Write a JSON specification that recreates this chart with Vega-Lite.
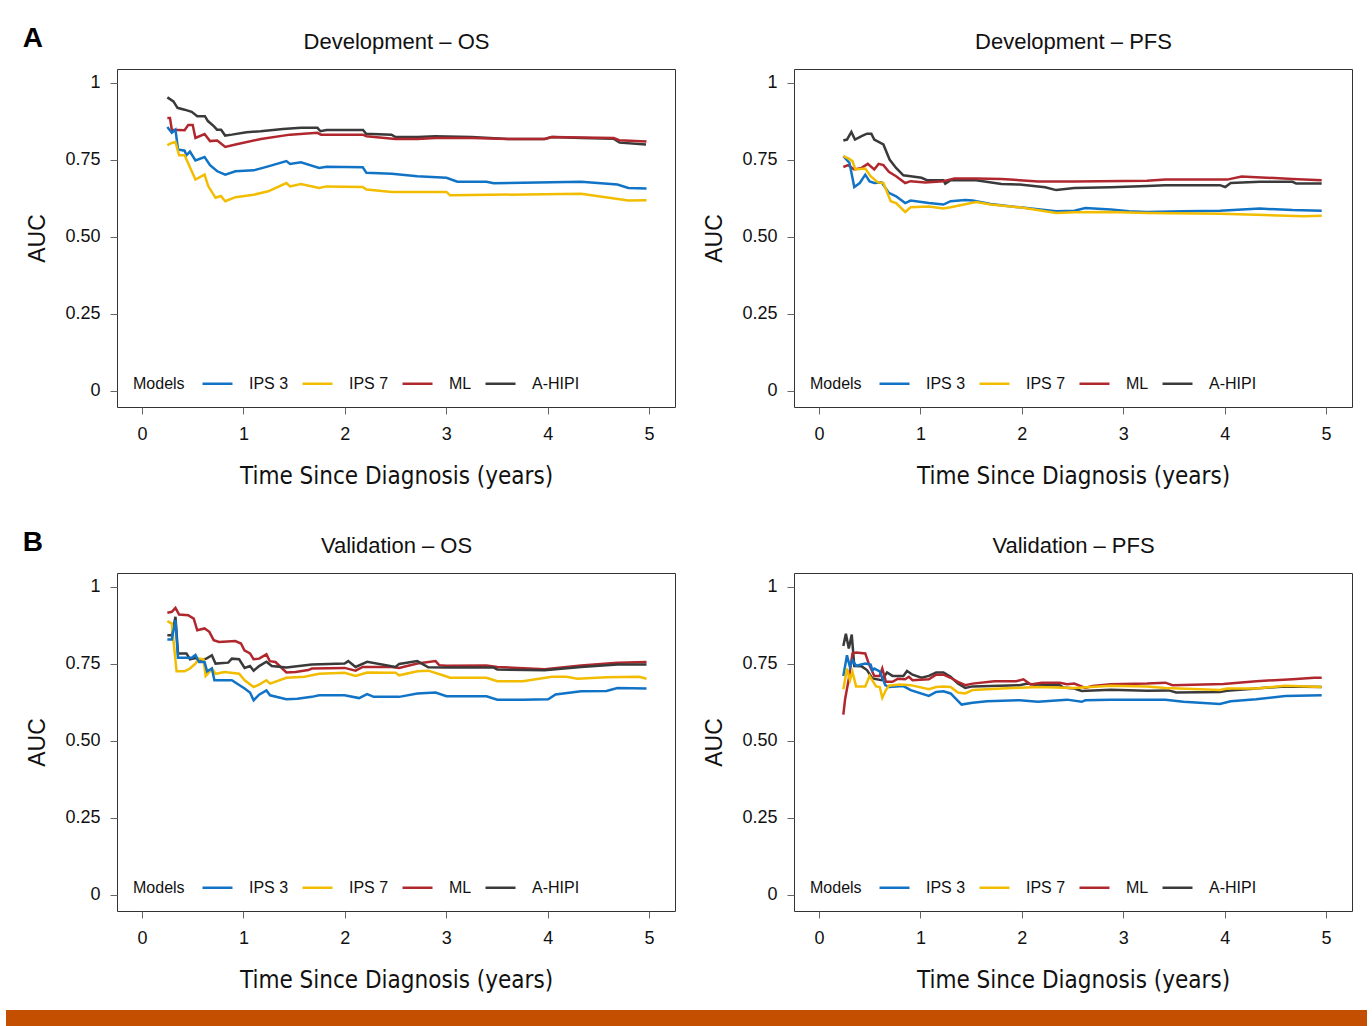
{
  "$schema": "https://vega.github.io/schema/vega-lite/v6.json",
  "background": "white",
  "padding": {"left": 6, "top": 24, "right": 0, "bottom": 0},
  "datasets": {
    "devos": [
      {"m":"A-HIPI","t":0.25,"v":0.953},{"m":"A-HIPI","t":0.31,"v":0.94},{"m":"A-HIPI","t":0.35,"v":0.919},{"m":"A-HIPI","t":0.42,"v":0.913},{"m":"A-HIPI","t":0.49,"v":0.906},{"m":"A-HIPI","t":0.545,"v":0.892},{"m":"A-HIPI","t":0.62,"v":0.892},{"m":"A-HIPI","t":0.65,"v":0.876},{"m":"A-HIPI","t":0.71,"v":0.859},{"m":"A-HIPI","t":0.74,"v":0.848},{"m":"A-HIPI","t":0.78,"v":0.848},{"m":"A-HIPI","t":0.82,"v":0.829},{"m":"A-HIPI","t":0.886,"v":0.832},{"m":"A-HIPI","t":1.03,"v":0.84},{"m":"A-HIPI","t":1.17,"v":0.843},{"m":"A-HIPI","t":1.39,"v":0.85},{"m":"A-HIPI","t":1.57,"v":0.854},{"m":"A-HIPI","t":1.73,"v":0.854},{"m":"A-HIPI","t":1.76,"v":0.843},{"m":"A-HIPI","t":1.82,"v":0.847},{"m":"A-HIPI","t":2.18,"v":0.847},{"m":"A-HIPI","t":2.21,"v":0.835},{"m":"A-HIPI","t":2.46,"v":0.832},{"m":"A-HIPI","t":2.5,"v":0.824},{"m":"A-HIPI","t":2.72,"v":0.824},{"m":"A-HIPI","t":2.89,"v":0.827},{"m":"A-HIPI","t":3.25,"v":0.824},{"m":"A-HIPI","t":3.61,"v":0.818},{"m":"A-HIPI","t":3.97,"v":0.818},{"m":"A-HIPI","t":4.04,"v":0.824},{"m":"A-HIPI","t":4.33,"v":0.821},{"m":"A-HIPI","t":4.65,"v":0.819},{"m":"A-HIPI","t":4.71,"v":0.806},{"m":"A-HIPI","t":4.97,"v":0.8},
      {"m":"ML","t":0.25,"v":0.886},{"m":"ML","t":0.276,"v":0.886},{"m":"ML","t":0.294,"v":0.848},{"m":"ML","t":0.42,"v":0.846},{"m":"ML","t":0.456,"v":0.863},{"m":"ML","t":0.5,"v":0.863},{"m":"ML","t":0.527,"v":0.821},{"m":"ML","t":0.617,"v":0.834},{"m":"ML","t":0.671,"v":0.811},{"m":"ML","t":0.742,"v":0.813},{"m":"ML","t":0.821,"v":0.792},{"m":"ML","t":0.922,"v":0.8},{"m":"ML","t":1.173,"v":0.818},{"m":"ML","t":1.46,"v":0.832},{"m":"ML","t":1.729,"v":0.838},{"m":"ML","t":1.765,"v":0.832},{"m":"ML","t":2.177,"v":0.832},{"m":"ML","t":2.213,"v":0.827},{"m":"ML","t":2.5,"v":0.818},{"m":"ML","t":2.715,"v":0.818},{"m":"ML","t":2.895,"v":0.821},{"m":"ML","t":3.253,"v":0.821},{"m":"ML","t":3.612,"v":0.818},{"m":"ML","t":3.971,"v":0.818},{"m":"ML","t":4.043,"v":0.824},{"m":"ML","t":4.652,"v":0.821},{"m":"ML","t":4.706,"v":0.814},{"m":"ML","t":4.975,"v":0.81},
      {"m":"IPS 3","t":0.25,"v":0.857},{"m":"IPS 3","t":0.294,"v":0.838},{"m":"IPS 3","t":0.33,"v":0.848},{"m":"IPS 3","t":0.355,"v":0.784},{"m":"IPS 3","t":0.42,"v":0.78},{"m":"IPS 3","t":0.438,"v":0.765},{"m":"IPS 3","t":0.473,"v":0.777},{"m":"IPS 3","t":0.527,"v":0.748},{"m":"IPS 3","t":0.617,"v":0.759},{"m":"IPS 3","t":0.671,"v":0.733},{"m":"IPS 3","t":0.742,"v":0.713},{"m":"IPS 3","t":0.821,"v":0.702},{"m":"IPS 3","t":0.922,"v":0.713},{"m":"IPS 3","t":1.101,"v":0.716},{"m":"IPS 3","t":1.245,"v":0.729},{"m":"IPS 3","t":1.424,"v":0.746},{"m":"IPS 3","t":1.46,"v":0.737},{"m":"IPS 3","t":1.567,"v":0.742},{"m":"IPS 3","t":1.747,"v":0.724},{"m":"IPS 3","t":1.819,"v":0.728},{"m":"IPS 3","t":2.177,"v":0.726},{"m":"IPS 3","t":2.213,"v":0.708},{"m":"IPS 3","t":2.464,"v":0.705},{"m":"IPS 3","t":2.715,"v":0.697},{"m":"IPS 3","t":3.002,"v":0.692},{"m":"IPS 3","t":3.11,"v":0.679},{"m":"IPS 3","t":3.397,"v":0.679},{"m":"IPS 3","t":3.468,"v":0.674},{"m":"IPS 3","t":4.329,"v":0.679},{"m":"IPS 3","t":4.688,"v":0.67},{"m":"IPS 3","t":4.796,"v":0.659},{"m":"IPS 3","t":4.975,"v":0.657},
      {"m":"IPS 7","t":0.25,"v":0.798},{"m":"IPS 7","t":0.294,"v":0.805},{"m":"IPS 7","t":0.33,"v":0.808},{"m":"IPS 7","t":0.366,"v":0.765},{"m":"IPS 7","t":0.42,"v":0.765},{"m":"IPS 7","t":0.527,"v":0.686},{"m":"IPS 7","t":0.617,"v":0.702},{"m":"IPS 7","t":0.653,"v":0.665},{"m":"IPS 7","t":0.725,"v":0.627},{"m":"IPS 7","t":0.778,"v":0.633},{"m":"IPS 7","t":0.821,"v":0.616},{"m":"IPS 7","t":0.922,"v":0.629},{"m":"IPS 7","t":1.101,"v":0.637},{"m":"IPS 7","t":1.245,"v":0.648},{"m":"IPS 7","t":1.424,"v":0.675},{"m":"IPS 7","t":1.46,"v":0.664},{"m":"IPS 7","t":1.567,"v":0.672},{"m":"IPS 7","t":1.747,"v":0.659},{"m":"IPS 7","t":1.819,"v":0.664},{"m":"IPS 7","t":2.177,"v":0.662},{"m":"IPS 7","t":2.213,"v":0.654},{"m":"IPS 7","t":2.464,"v":0.646},{"m":"IPS 7","t":3.002,"v":0.646},{"m":"IPS 7","t":3.038,"v":0.635},{"m":"IPS 7","t":4.329,"v":0.64},{"m":"IPS 7","t":4.796,"v":0.618},{"m":"IPS 7","t":4.975,"v":0.619}
    ],
    "devpfs": [
      {"m":"A-HIPI","t":0.24,"v":0.813},{"m":"A-HIPI","t":0.276,"v":0.816},{"m":"A-HIPI","t":0.319,"v":0.841},{"m":"A-HIPI","t":0.355,"v":0.816},{"m":"A-HIPI","t":0.42,"v":0.827},{"m":"A-HIPI","t":0.473,"v":0.835},{"m":"A-HIPI","t":0.516,"v":0.835},{"m":"A-HIPI","t":0.545,"v":0.816},{"m":"A-HIPI","t":0.635,"v":0.8},{"m":"A-HIPI","t":0.696,"v":0.751},{"m":"A-HIPI","t":0.76,"v":0.724},{"m":"A-HIPI","t":0.832,"v":0.7},{"m":"A-HIPI","t":0.904,"v":0.697},{"m":"A-HIPI","t":1.011,"v":0.692},{"m":"A-HIPI","t":1.065,"v":0.684},{"m":"A-HIPI","t":1.227,"v":0.684},{"m":"A-HIPI","t":1.245,"v":0.673},{"m":"A-HIPI","t":1.298,"v":0.684},{"m":"A-HIPI","t":1.549,"v":0.684},{"m":"A-HIPI","t":1.8,"v":0.672},{"m":"A-HIPI","t":1.98,"v":0.67},{"m":"A-HIPI","t":2.23,"v":0.661},{"m":"A-HIPI","t":2.339,"v":0.652},{"m":"A-HIPI","t":2.518,"v":0.659},{"m":"A-HIPI","t":2.877,"v":0.661},{"m":"A-HIPI","t":3.235,"v":0.665},{"m":"A-HIPI","t":3.415,"v":0.668},{"m":"A-HIPI","t":3.953,"v":0.668},{"m":"A-HIPI","t":4.006,"v":0.662},{"m":"A-HIPI","t":4.06,"v":0.675},{"m":"A-HIPI","t":4.347,"v":0.679},{"m":"A-HIPI","t":4.67,"v":0.679},{"m":"A-HIPI","t":4.706,"v":0.673},{"m":"A-HIPI","t":4.957,"v":0.673},
      {"m":"ML","t":0.24,"v":0.727},{"m":"ML","t":0.287,"v":0.733},{"m":"ML","t":0.348,"v":0.719},{"m":"ML","t":0.42,"v":0.724},{"m":"ML","t":0.481,"v":0.737},{"m":"ML","t":0.545,"v":0.719},{"m":"ML","t":0.588,"v":0.737},{"m":"ML","t":0.635,"v":0.733},{"m":"ML","t":0.689,"v":0.711},{"m":"ML","t":0.76,"v":0.697},{"m":"ML","t":0.85,"v":0.675},{"m":"ML","t":0.904,"v":0.681},{"m":"ML","t":1.047,"v":0.677},{"m":"ML","t":1.227,"v":0.681},{"m":"ML","t":1.334,"v":0.69},{"m":"ML","t":1.549,"v":0.69},{"m":"ML","t":1.8,"v":0.688},{"m":"ML","t":2.159,"v":0.68},{"m":"ML","t":2.518,"v":0.68},{"m":"ML","t":3.235,"v":0.682},{"m":"ML","t":3.415,"v":0.686},{"m":"ML","t":4.024,"v":0.686},{"m":"ML","t":4.168,"v":0.696},{"m":"ML","t":4.311,"v":0.694},{"m":"ML","t":4.67,"v":0.688},{"m":"ML","t":4.957,"v":0.684},
      {"m":"IPS 3","t":0.24,"v":0.762},{"m":"IPS 3","t":0.301,"v":0.74},{"m":"IPS 3","t":0.348,"v":0.662},{"m":"IPS 3","t":0.402,"v":0.675},{"m":"IPS 3","t":0.456,"v":0.702},{"m":"IPS 3","t":0.499,"v":0.68},{"m":"IPS 3","t":0.545,"v":0.675},{"m":"IPS 3","t":0.617,"v":0.677},{"m":"IPS 3","t":0.689,"v":0.643},{"m":"IPS 3","t":0.76,"v":0.632},{"m":"IPS 3","t":0.85,"v":0.61},{"m":"IPS 3","t":0.904,"v":0.618},{"m":"IPS 3","t":1.083,"v":0.61},{"m":"IPS 3","t":1.227,"v":0.605},{"m":"IPS 3","t":1.298,"v":0.616},{"m":"IPS 3","t":1.442,"v":0.62},{"m":"IPS 3","t":1.514,"v":0.618},{"m":"IPS 3","t":1.693,"v":0.607},{"m":"IPS 3","t":1.98,"v":0.596},{"m":"IPS 3","t":2.339,"v":0.583},{"m":"IPS 3","t":2.518,"v":0.585},{"m":"IPS 3","t":2.626,"v":0.594},{"m":"IPS 3","t":2.877,"v":0.589},{"m":"IPS 3","t":3.056,"v":0.583},{"m":"IPS 3","t":3.235,"v":0.581},{"m":"IPS 3","t":3.594,"v":0.583},{"m":"IPS 3","t":3.953,"v":0.585},{"m":"IPS 3","t":4.347,"v":0.592},{"m":"IPS 3","t":4.67,"v":0.587},{"m":"IPS 3","t":4.957,"v":0.585},
      {"m":"IPS 7","t":0.24,"v":0.762},{"m":"IPS 7","t":0.294,"v":0.754},{"m":"IPS 7","t":0.33,"v":0.746},{"m":"IPS 7","t":0.359,"v":0.719},{"m":"IPS 7","t":0.456,"v":0.722},{"m":"IPS 7","t":0.509,"v":0.697},{"m":"IPS 7","t":0.581,"v":0.677},{"m":"IPS 7","t":0.635,"v":0.675},{"m":"IPS 7","t":0.707,"v":0.616},{"m":"IPS 7","t":0.76,"v":0.61},{"m":"IPS 7","t":0.85,"v":0.581},{"m":"IPS 7","t":0.904,"v":0.596},{"m":"IPS 7","t":1.083,"v":0.599},{"m":"IPS 7","t":1.227,"v":0.592},{"m":"IPS 7","t":1.298,"v":0.596},{"m":"IPS 7","t":1.549,"v":0.613},{"m":"IPS 7","t":1.693,"v":0.605},{"m":"IPS 7","t":1.98,"v":0.596},{"m":"IPS 7","t":2.339,"v":0.578},{"m":"IPS 7","t":2.518,"v":0.58},{"m":"IPS 7","t":2.877,"v":0.581},{"m":"IPS 7","t":3.235,"v":0.578},{"m":"IPS 7","t":3.953,"v":0.575},{"m":"IPS 7","t":4.311,"v":0.572},{"m":"IPS 7","t":4.778,"v":0.567},{"m":"IPS 7","t":4.957,"v":0.569}
    ],
    "valos": [
      {"m":"ML","t":0.25,"v":0.916},{"m":"ML","t":0.294,"v":0.919},{"m":"ML","t":0.33,"v":0.932},{"m":"ML","t":0.366,"v":0.91},{"m":"ML","t":0.456,"v":0.908},{"m":"ML","t":0.51,"v":0.897},{"m":"ML","t":0.545,"v":0.859},{"m":"ML","t":0.617,"v":0.865},{"m":"ML","t":0.664,"v":0.854},{"m":"ML","t":0.707,"v":0.827},{"m":"ML","t":0.76,"v":0.821},{"m":"ML","t":0.92,"v":0.824},{"m":"ML","t":0.976,"v":0.816},{"m":"ML","t":1.01,"v":0.794},{"m":"ML","t":1.065,"v":0.784},{"m":"ML","t":1.1,"v":0.765},{"m":"ML","t":1.155,"v":0.767},{"m":"ML","t":1.227,"v":0.781},{"m":"ML","t":1.26,"v":0.759},{"m":"ML","t":1.316,"v":0.756},{"m":"ML","t":1.424,"v":0.722},{"m":"ML","t":1.514,"v":0.724},{"m":"ML","t":1.64,"v":0.73},{"m":"ML","t":1.675,"v":0.735},{"m":"ML","t":1.998,"v":0.737},{"m":"ML","t":2.106,"v":0.728},{"m":"ML","t":2.177,"v":0.74},{"m":"ML","t":2.464,"v":0.74},{"m":"ML","t":2.536,"v":0.737},{"m":"ML","t":2.715,"v":0.751},{"m":"ML","t":2.895,"v":0.759},{"m":"ML","t":2.93,"v":0.746},{"m":"ML","t":3.0,"v":0.744},{"m":"ML","t":3.397,"v":0.745},{"m":"ML","t":3.504,"v":0.74},{"m":"ML","t":3.97,"v":0.733},{"m":"ML","t":4.33,"v":0.745},{"m":"ML","t":4.69,"v":0.754},{"m":"ML","t":4.975,"v":0.756},
      {"m":"A-HIPI","t":0.25,"v":0.843},{"m":"A-HIPI","t":0.294,"v":0.843},{"m":"A-HIPI","t":0.33,"v":0.903},{"m":"A-HIPI","t":0.355,"v":0.784},{"m":"A-HIPI","t":0.438,"v":0.784},{"m":"A-HIPI","t":0.473,"v":0.765},{"m":"A-HIPI","t":0.527,"v":0.769},{"m":"A-HIPI","t":0.563,"v":0.762},{"m":"A-HIPI","t":0.635,"v":0.767},{"m":"A-HIPI","t":0.689,"v":0.778},{"m":"A-HIPI","t":0.725,"v":0.751},{"m":"A-HIPI","t":0.85,"v":0.754},{"m":"A-HIPI","t":0.886,"v":0.767},{"m":"A-HIPI","t":0.958,"v":0.765},{"m":"A-HIPI","t":1.012,"v":0.737},{"m":"A-HIPI","t":1.065,"v":0.743},{"m":"A-HIPI","t":1.101,"v":0.728},{"m":"A-HIPI","t":1.155,"v":0.743},{"m":"A-HIPI","t":1.227,"v":0.757},{"m":"A-HIPI","t":1.28,"v":0.743},{"m":"A-HIPI","t":1.424,"v":0.738},{"m":"A-HIPI","t":1.675,"v":0.748},{"m":"A-HIPI","t":1.998,"v":0.751},{"m":"A-HIPI","t":2.034,"v":0.759},{"m":"A-HIPI","t":2.106,"v":0.74},{"m":"A-HIPI","t":2.22,"v":0.757},{"m":"A-HIPI","t":2.5,"v":0.74},{"m":"A-HIPI","t":2.536,"v":0.75},{"m":"A-HIPI","t":2.715,"v":0.759},{"m":"A-HIPI","t":2.823,"v":0.739},{"m":"A-HIPI","t":3.0,"v":0.738},{"m":"A-HIPI","t":3.468,"v":0.738},{"m":"A-HIPI","t":3.504,"v":0.732},{"m":"A-HIPI","t":3.97,"v":0.729},{"m":"A-HIPI","t":4.33,"v":0.74},{"m":"A-HIPI","t":4.69,"v":0.748},{"m":"A-HIPI","t":4.975,"v":0.748},
      {"m":"IPS 7","t":0.25,"v":0.889},{"m":"IPS 7","t":0.294,"v":0.881},{"m":"IPS 7","t":0.341,"v":0.726},{"m":"IPS 7","t":0.42,"v":0.726},{"m":"IPS 7","t":0.473,"v":0.735},{"m":"IPS 7","t":0.527,"v":0.751},{"m":"IPS 7","t":0.563,"v":0.767},{"m":"IPS 7","t":0.606,"v":0.765},{"m":"IPS 7","t":0.628,"v":0.711},{"m":"IPS 7","t":0.664,"v":0.724},{"m":"IPS 7","t":0.689,"v":0.735},{"m":"IPS 7","t":0.725,"v":0.718},{"m":"IPS 7","t":0.814,"v":0.724},{"m":"IPS 7","t":0.958,"v":0.718},{"m":"IPS 7","t":1.012,"v":0.697},{"m":"IPS 7","t":1.101,"v":0.675},{"m":"IPS 7","t":1.155,"v":0.683},{"m":"IPS 7","t":1.227,"v":0.697},{"m":"IPS 7","t":1.263,"v":0.686},{"m":"IPS 7","t":1.424,"v":0.705},{"m":"IPS 7","t":1.603,"v":0.708},{"m":"IPS 7","t":1.747,"v":0.718},{"m":"IPS 7","t":1.998,"v":0.721},{"m":"IPS 7","t":2.106,"v":0.711},{"m":"IPS 7","t":2.22,"v":0.722},{"m":"IPS 7","t":2.5,"v":0.721},{"m":"IPS 7","t":2.536,"v":0.713},{"m":"IPS 7","t":2.715,"v":0.726},{"m":"IPS 7","t":2.823,"v":0.728},{"m":"IPS 7","t":2.966,"v":0.713},{"m":"IPS 7","t":3.038,"v":0.705},{"m":"IPS 7","t":3.397,"v":0.705},{"m":"IPS 7","t":3.504,"v":0.694},{"m":"IPS 7","t":3.755,"v":0.694},{"m":"IPS 7","t":4.042,"v":0.708},{"m":"IPS 7","t":4.186,"v":0.708},{"m":"IPS 7","t":4.293,"v":0.702},{"m":"IPS 7","t":4.58,"v":0.707},{"m":"IPS 7","t":4.903,"v":0.708},{"m":"IPS 7","t":4.975,"v":0.702},
      {"m":"IPS 3","t":0.25,"v":0.829},{"m":"IPS 3","t":0.294,"v":0.829},{"m":"IPS 3","t":0.33,"v":0.892},{"m":"IPS 3","t":0.355,"v":0.77},{"m":"IPS 3","t":0.491,"v":0.77},{"m":"IPS 3","t":0.527,"v":0.779},{"m":"IPS 3","t":0.563,"v":0.756},{"m":"IPS 3","t":0.617,"v":0.756},{"m":"IPS 3","t":0.642,"v":0.726},{"m":"IPS 3","t":0.689,"v":0.735},{"m":"IPS 3","t":0.714,"v":0.697},{"m":"IPS 3","t":0.886,"v":0.697},{"m":"IPS 3","t":1.012,"v":0.67},{"m":"IPS 3","t":1.065,"v":0.657},{"m":"IPS 3","t":1.101,"v":0.632},{"m":"IPS 3","t":1.155,"v":0.65},{"m":"IPS 3","t":1.227,"v":0.664},{"m":"IPS 3","t":1.263,"v":0.648},{"m":"IPS 3","t":1.424,"v":0.635},{"m":"IPS 3","t":1.531,"v":0.637},{"m":"IPS 3","t":1.675,"v":0.643},{"m":"IPS 3","t":1.747,"v":0.648},{"m":"IPS 3","t":1.998,"v":0.648},{"m":"IPS 3","t":2.141,"v":0.639},{"m":"IPS 3","t":2.22,"v":0.652},{"m":"IPS 3","t":2.285,"v":0.643},{"m":"IPS 3","t":2.536,"v":0.643},{"m":"IPS 3","t":2.715,"v":0.654},{"m":"IPS 3","t":2.895,"v":0.657},{"m":"IPS 3","t":3.002,"v":0.645},{"m":"IPS 3","t":3.397,"v":0.645},{"m":"IPS 3","t":3.504,"v":0.634},{"m":"IPS 3","t":3.755,"v":0.634},{"m":"IPS 3","t":4.006,"v":0.635},{"m":"IPS 3","t":4.078,"v":0.651},{"m":"IPS 3","t":4.33,"v":0.661},{"m":"IPS 3","t":4.58,"v":0.662},{"m":"IPS 3","t":4.688,"v":0.672},{"m":"IPS 3","t":4.975,"v":0.67}
    ],
    "valpfs": [
      {"m":"A-HIPI","t":0.24,"v":0.808},{"m":"A-HIPI","t":0.265,"v":0.848},{"m":"A-HIPI","t":0.294,"v":0.8},{"m":"A-HIPI","t":0.323,"v":0.845},{"m":"A-HIPI","t":0.348,"v":0.743},{"m":"A-HIPI","t":0.42,"v":0.742},{"m":"A-HIPI","t":0.473,"v":0.73},{"m":"A-HIPI","t":0.527,"v":0.703},{"m":"A-HIPI","t":0.617,"v":0.697},{"m":"A-HIPI","t":0.671,"v":0.722},{"m":"A-HIPI","t":0.725,"v":0.711},{"m":"A-HIPI","t":0.832,"v":0.711},{"m":"A-HIPI","t":0.868,"v":0.727},{"m":"A-HIPI","t":0.922,"v":0.715},{"m":"A-HIPI","t":1.011,"v":0.705},{"m":"A-HIPI","t":1.083,"v":0.711},{"m":"A-HIPI","t":1.155,"v":0.722},{"m":"A-HIPI","t":1.227,"v":0.722},{"m":"A-HIPI","t":1.298,"v":0.708},{"m":"A-HIPI","t":1.37,"v":0.686},{"m":"A-HIPI","t":1.442,"v":0.672},{"m":"A-HIPI","t":1.514,"v":0.677},{"m":"A-HIPI","t":1.98,"v":0.681},{"m":"A-HIPI","t":2.052,"v":0.686},{"m":"A-HIPI","t":2.159,"v":0.681},{"m":"A-HIPI","t":2.374,"v":0.681},{"m":"A-HIPI","t":2.41,"v":0.673},{"m":"A-HIPI","t":2.518,"v":0.67},{"m":"A-HIPI","t":2.59,"v":0.662},{"m":"A-HIPI","t":2.877,"v":0.666},{"m":"A-HIPI","t":3.235,"v":0.663},{"m":"A-HIPI","t":3.45,"v":0.664},{"m":"A-HIPI","t":3.522,"v":0.657},{"m":"A-HIPI","t":3.953,"v":0.659},{"m":"A-HIPI","t":4.024,"v":0.663},{"m":"A-HIPI","t":4.311,"v":0.67},{"m":"A-HIPI","t":4.598,"v":0.677},{"m":"A-HIPI","t":4.957,"v":0.675},
      {"m":"ML","t":0.24,"v":0.585},{"m":"ML","t":0.258,"v":0.637},{"m":"ML","t":0.294,"v":0.702},{"m":"ML","t":0.33,"v":0.784},{"m":"ML","t":0.366,"v":0.787},{"m":"ML","t":0.456,"v":0.784},{"m":"ML","t":0.491,"v":0.751},{"m":"ML","t":0.545,"v":0.711},{"m":"ML","t":0.599,"v":0.711},{"m":"ML","t":0.624,"v":0.735},{"m":"ML","t":0.66,"v":0.692},{"m":"ML","t":0.725,"v":0.692},{"m":"ML","t":0.778,"v":0.702},{"m":"ML","t":0.85,"v":0.7},{"m":"ML","t":0.886,"v":0.708},{"m":"ML","t":0.922,"v":0.697},{"m":"ML","t":1.083,"v":0.7},{"m":"ML","t":1.155,"v":0.715},{"m":"ML","t":1.227,"v":0.715},{"m":"ML","t":1.298,"v":0.705},{"m":"ML","t":1.37,"v":0.692},{"m":"ML","t":1.442,"v":0.681},{"m":"ML","t":1.514,"v":0.686},{"m":"ML","t":1.729,"v":0.694},{"m":"ML","t":1.944,"v":0.694},{"m":"ML","t":2.016,"v":0.7},{"m":"ML","t":2.088,"v":0.683},{"m":"ML","t":2.195,"v":0.689},{"m":"ML","t":2.374,"v":0.689},{"m":"ML","t":2.446,"v":0.684},{"m":"ML","t":2.518,"v":0.686},{"m":"ML","t":2.626,"v":0.672},{"m":"ML","t":2.697,"v":0.678},{"m":"ML","t":2.877,"v":0.684},{"m":"ML","t":3.235,"v":0.686},{"m":"ML","t":3.415,"v":0.689},{"m":"ML","t":3.486,"v":0.681},{"m":"ML","t":3.989,"v":0.685},{"m":"ML","t":4.311,"v":0.694},{"m":"ML","t":4.67,"v":0.7},{"m":"ML","t":4.885,"v":0.705},{"m":"ML","t":4.957,"v":0.705},
      {"m":"IPS 3","t":0.24,"v":0.711},{"m":"IPS 3","t":0.276,"v":0.778},{"m":"IPS 3","t":0.305,"v":0.74},{"m":"IPS 3","t":0.33,"v":0.762},{"m":"IPS 3","t":0.366,"v":0.744},{"m":"IPS 3","t":0.456,"v":0.751},{"m":"IPS 3","t":0.509,"v":0.748},{"m":"IPS 3","t":0.527,"v":0.729},{"m":"IPS 3","t":0.545,"v":0.735},{"m":"IPS 3","t":0.599,"v":0.726},{"m":"IPS 3","t":0.653,"v":0.681},{"m":"IPS 3","t":0.689,"v":0.675},{"m":"IPS 3","t":0.832,"v":0.678},{"m":"IPS 3","t":0.904,"v":0.665},{"m":"IPS 3","t":1.083,"v":0.646},{"m":"IPS 3","t":1.155,"v":0.659},{"m":"IPS 3","t":1.227,"v":0.661},{"m":"IPS 3","t":1.298,"v":0.654},{"m":"IPS 3","t":1.406,"v":0.618},{"m":"IPS 3","t":1.514,"v":0.624},{"m":"IPS 3","t":1.657,"v":0.629},{"m":"IPS 3","t":1.98,"v":0.632},{"m":"IPS 3","t":2.159,"v":0.627},{"m":"IPS 3","t":2.446,"v":0.634},{"m":"IPS 3","t":2.59,"v":0.627},{"m":"IPS 3","t":2.626,"v":0.632},{"m":"IPS 3","t":2.877,"v":0.634},{"m":"IPS 3","t":3.415,"v":0.634},{"m":"IPS 3","t":3.594,"v":0.627},{"m":"IPS 3","t":3.953,"v":0.62},{"m":"IPS 3","t":4.06,"v":0.629},{"m":"IPS 3","t":4.311,"v":0.635},{"m":"IPS 3","t":4.598,"v":0.646},{"m":"IPS 3","t":4.957,"v":0.648},
      {"m":"IPS 7","t":0.24,"v":0.668},{"m":"IPS 7","t":0.276,"v":0.735},{"m":"IPS 7","t":0.305,"v":0.697},{"m":"IPS 7","t":0.33,"v":0.724},{"m":"IPS 7","t":0.366,"v":0.677},{"m":"IPS 7","t":0.456,"v":0.677},{"m":"IPS 7","t":0.499,"v":0.711},{"m":"IPS 7","t":0.563,"v":0.677},{"m":"IPS 7","t":0.599,"v":0.675},{"m":"IPS 7","t":0.624,"v":0.64},{"m":"IPS 7","t":0.66,"v":0.665},{"m":"IPS 7","t":0.689,"v":0.679},{"m":"IPS 7","t":0.796,"v":0.683},{"m":"IPS 7","t":0.904,"v":0.681},{"m":"IPS 7","t":1.083,"v":0.668},{"m":"IPS 7","t":1.155,"v":0.675},{"m":"IPS 7","t":1.227,"v":0.677},{"m":"IPS 7","t":1.298,"v":0.675},{"m":"IPS 7","t":1.37,"v":0.657},{"m":"IPS 7","t":1.442,"v":0.654},{"m":"IPS 7","t":1.514,"v":0.665},{"m":"IPS 7","t":1.801,"v":0.67},{"m":"IPS 7","t":2.159,"v":0.675},{"m":"IPS 7","t":2.518,"v":0.672},{"m":"IPS 7","t":2.877,"v":0.679},{"m":"IPS 7","t":3.235,"v":0.677},{"m":"IPS 7","t":3.415,"v":0.672},{"m":"IPS 7","t":3.953,"v":0.665},{"m":"IPS 7","t":4.024,"v":0.67},{"m":"IPS 7","t":4.311,"v":0.67},{"m":"IPS 7","t":4.598,"v":0.679},{"m":"IPS 7","t":4.957,"v":0.675}
    ]
  },
  "config": {
    "font": "Liberation Sans",
    "view": {"stroke": "#333333", "strokeWidth": 1},
    "axis": {"domain": false, "grid": false, "tickColor": "#666666", "tickSize": 7, "tickWidth": 1, "labelFontSize": 18, "labelColor": "#111111", "labelFont": "Liberation Sans", "titleFontWeight": "normal", "titleColor": "#111111"},
    "axisX": {"titleFont": "Liberation Sans Narrow, DejaVu Sans Condensed, Liberation Sans", "titleFontSize": 24, "labelPadding": 11, "titlePadding": 21},
    "axisY": {"titleFont": "Liberation Sans", "titleFontSize": 23, "labelPadding": 10, "titlePadding": 15},
    "legend": {"orient": "none", "legendX": 16, "legendY": 298, "direction": "horizontal", "titleOrient": "left", "titleAnchor": "end", "titleBaseline": "bottom", "titleFontSize": 16, "titleFontWeight": "normal", "titleColor": "#111111", "labelFontSize": 16, "labelColor": "#111111", "symbolType": "stroke", "symbolSize": 900, "symbolStrokeWidth": 2.5, "labelOffset": 15, "columnPadding": 8, "titlePadding": 16, "padding": 0}
  },
  "resolve": {"legend": {"color": "independent"}},
  "spacing": 17,
  "vconcat": [
    {
      "spacing": 39,
      "resolve": {"legend": {"color": "independent"}},
      "vconcat": [
        {
          "spacing": 27,
          "resolve": {"legend": {"color": "independent"}},
          "hconcat": [
            {
              "width": 558, "height": 338,
              "layer": [
                {
                  "data": {"name": "devos"},
                  "mark": {"type": "line", "strokeWidth": 2.5},
                  "encoding": {
                    "x": {"field": "t", "type": "quantitative", "scale": {"domain": [-0.2465, 5.256], "nice": false, "zero": false}, "axis": {"orient": "bottom", "values": [0,1,2,3,4,5], "format": "d", "title": "Time Since Diagnosis (years)"}},
                    "y": {"field": "v", "type": "quantitative", "scale": {"domain": [-0.052, 1.045], "nice": false, "zero": false}, "axis": {"values": [0,0.25,0.5,0.75,1], "labelExpr": "datum.value == 0 ? '0' : datum.value == 1 ? '1' : format(datum.value, '.2f')", "title": "AUC"}},
                    "color": {"field": "m", "type": "nominal", "title": "Models", "scale": {"domain": ["IPS 3","IPS 7","ML","A-HIPI"], "range": ["#1173C6","#F2BD00","#B0282E","#3A3A3A"]}},
                    "order": {"field": "t", "type": "quantitative"}
                  }
                },
                {
                  "data": {"values": [{"lab": "A", "t": -1.075, "v": 1.143}]},
                  "mark": {"type": "text", "fontSize": 28, "fontWeight": "bold", "color": "#000000", "align": "center", "baseline": "middle"},
                  "encoding": {
                    "x": {"field": "t", "type": "quantitative", "axis": {"orient": "top", "title": "Development – OS", "labels": false, "ticks": false, "domain": false, "titleFont": "Liberation Sans", "titleFontSize": 22, "titlePadding": 16}},
                    "y": {"field": "v", "type": "quantitative"},
                    "text": {"field": "lab"}
                  }
                }
              ]
            },
            {
              "width": 558, "height": 338,
              "layer": [
                {
                  "data": {"name": "devpfs"},
                  "mark": {"type": "line", "strokeWidth": 2.5},
                  "encoding": {
                    "x": {"field": "t", "type": "quantitative", "scale": {"domain": [-0.2465, 5.256], "nice": false, "zero": false}, "axis": {"orient": "bottom", "values": [0,1,2,3,4,5], "format": "d", "title": "Time Since Diagnosis (years)"}},
                    "y": {"field": "v", "type": "quantitative", "scale": {"domain": [-0.052, 1.045], "nice": false, "zero": false}, "axis": {"values": [0,0.25,0.5,0.75,1], "labelExpr": "datum.value == 0 ? '0' : datum.value == 1 ? '1' : format(datum.value, '.2f')", "title": "AUC"}},
                    "color": {"field": "m", "type": "nominal", "title": "Models", "scale": {"domain": ["IPS 3","IPS 7","ML","A-HIPI"], "range": ["#1173C6","#F2BD00","#B0282E","#3A3A3A"]}},
                    "order": {"field": "t", "type": "quantitative"}
                  }
                },
                {
                  "data": {"values": [{"lab": "", "t": 0, "v": 0}]},
                  "mark": {"type": "text", "fontSize": 28},
                  "encoding": {
                    "x": {"field": "t", "type": "quantitative", "axis": {"orient": "top", "title": "Development – PFS", "labels": false, "ticks": false, "domain": false, "titleFont": "Liberation Sans", "titleFontSize": 22, "titlePadding": 16}},
                    "y": {"field": "v", "type": "quantitative"},
                    "text": {"field": "lab"}
                  }
                }
              ]
            }
          ]
        },
        {
          "spacing": 27,
          "resolve": {"legend": {"color": "independent"}},
          "hconcat": [
            {
              "width": 558, "height": 338,
              "layer": [
                {
                  "data": {"name": "valos"},
                  "mark": {"type": "line", "strokeWidth": 2.5},
                  "encoding": {
                    "x": {"field": "t", "type": "quantitative", "scale": {"domain": [-0.2465, 5.256], "nice": false, "zero": false}, "axis": {"orient": "bottom", "values": [0,1,2,3,4,5], "format": "d", "title": "Time Since Diagnosis (years)"}},
                    "y": {"field": "v", "type": "quantitative", "scale": {"domain": [-0.052, 1.045], "nice": false, "zero": false}, "axis": {"values": [0,0.25,0.5,0.75,1], "labelExpr": "datum.value == 0 ? '0' : datum.value == 1 ? '1' : format(datum.value, '.2f')", "title": "AUC"}},
                    "color": {"field": "m", "type": "nominal", "title": "Models", "scale": {"domain": ["IPS 3","IPS 7","ML","A-HIPI"], "range": ["#1173C6","#F2BD00","#B0282E","#3A3A3A"]}},
                    "order": {"field": "t", "type": "quantitative"}
                  }
                },
                {
                  "data": {"values": [{"lab": "B", "t": -1.075, "v": 1.143}]},
                  "mark": {"type": "text", "fontSize": 28, "fontWeight": "bold", "color": "#000000", "align": "center", "baseline": "middle"},
                  "encoding": {
                    "x": {"field": "t", "type": "quantitative", "axis": {"orient": "top", "title": "Validation – OS", "labels": false, "ticks": false, "domain": false, "titleFont": "Liberation Sans", "titleFontSize": 22, "titlePadding": 16}},
                    "y": {"field": "v", "type": "quantitative"},
                    "text": {"field": "lab"}
                  }
                }
              ]
            },
            {
              "width": 558, "height": 338,
              "layer": [
                {
                  "data": {"name": "valpfs"},
                  "mark": {"type": "line", "strokeWidth": 2.5},
                  "encoding": {
                    "x": {"field": "t", "type": "quantitative", "scale": {"domain": [-0.2465, 5.256], "nice": false, "zero": false}, "axis": {"orient": "bottom", "values": [0,1,2,3,4,5], "format": "d", "title": "Time Since Diagnosis (years)"}},
                    "y": {"field": "v", "type": "quantitative", "scale": {"domain": [-0.052, 1.045], "nice": false, "zero": false}, "axis": {"values": [0,0.25,0.5,0.75,1], "labelExpr": "datum.value == 0 ? '0' : datum.value == 1 ? '1' : format(datum.value, '.2f')", "title": "AUC"}},
                    "color": {"field": "m", "type": "nominal", "title": "Models", "scale": {"domain": ["IPS 3","IPS 7","ML","A-HIPI"], "range": ["#1173C6","#F2BD00","#B0282E","#3A3A3A"]}},
                    "order": {"field": "t", "type": "quantitative"}
                  }
                },
                {
                  "data": {"values": [{"lab": "", "t": 0, "v": 0}]},
                  "mark": {"type": "text", "fontSize": 28},
                  "encoding": {
                    "x": {"field": "t", "type": "quantitative", "axis": {"orient": "top", "title": "Validation – PFS", "labels": false, "ticks": false, "domain": false, "titleFont": "Liberation Sans", "titleFontSize": 22, "titlePadding": 16}},
                    "y": {"field": "v", "type": "quantitative"},
                    "text": {"field": "lab"}
                  }
                }
              ]
            }
          ]
        }
      ]
    },
    {
      "width": 1250, "height": 16,
      "view": {"stroke": null},
      "data": {"values": [{"k": 1}]},
      "mark": {"type": "rect", "color": "#C44F00"},
      "encoding": {
        "x": {"datum": -0.0888, "type": "quantitative", "scale": {"domain": [0, 1], "nice": false, "zero": false}, "axis": null},
        "x2": {"datum": 1},
        "y": {"datum": 0, "type": "quantitative", "scale": {"domain": [0, 1], "nice": false, "zero": false}, "axis": null},
        "y2": {"datum": 1}
      }
    }
  ]
}
